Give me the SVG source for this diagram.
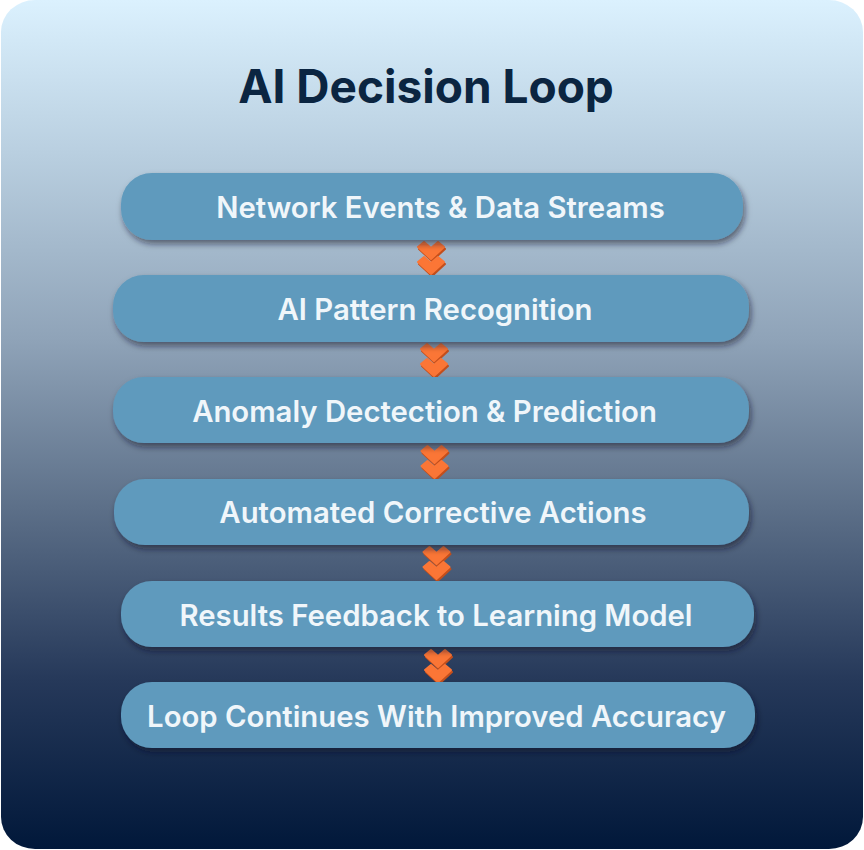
<svg xmlns="http://www.w3.org/2000/svg" xmlns:xlink="http://www.w3.org/1999/xlink" width="864" height="850" viewBox="0 0 864 850">
  <defs>
    <linearGradient id="bg" x1="0" y1="0" x2="0" y2="1">
      <stop offset="0" stop-color="#dbf1fe"/>
      <stop offset="0.18" stop-color="#b9cfe0"/>
      <stop offset="0.4" stop-color="#8fa3b8"/>
      <stop offset="0.6" stop-color="#5c6f88"/>
      <stop offset="0.8" stop-color="#26395a"/>
      <stop offset="1" stop-color="#01183a"/>
    </linearGradient>
    <filter id="shadow" x="-10%" y="-30%" width="120%" height="170%">
      <feDropShadow dx="2" dy="4" stdDeviation="3" flood-color="#0a1526" flood-opacity="0.55"/>
    </filter>
    <g id="chev1">
      <polygon points="-13,5 -7,0 0,6 7,0 13,5 0,17" fill="#c44f1c" transform="translate(1,2)" stroke="#c44f1c" stroke-width="2" stroke-linejoin="round"/>
      <polygon points="-13,5 -7,0 0,6 7,0 13,5 0,17" fill="#fb7636" stroke="#fb7636" stroke-width="2" stroke-linejoin="round"/>
    </g>
    <g id="chev">
      <use xlink:href="#chev1" href="#chev1" y="0"/>
      <use xlink:href="#chev1" href="#chev1" y="15"/>
    </g>
  </defs>
  <style>
    .pill { fill: #5f9abd; filter: url(#shadow); }
    .lbl { font-family: Inter, "Noto Sans", "Liberation Sans", sans-serif; font-size: 29.3px; font-weight: 600; fill: #f0f6fa; text-anchor: middle; }
    .title { font-family: Inter, "Noto Sans", "Liberation Sans", sans-serif; font-size: 46px; font-weight: 700; fill: #0b2541; text-anchor: middle; }
  </style>
  <rect x="0" y="0" width="864" height="850" fill="#ffffff"/>
  <rect x="1" y="0" width="862" height="849" rx="34" ry="32" fill="url(#bg)"/>
  <text class="title" x="426" y="103">AI Decision Loop</text>

  <g id="connectors">
    <use href="#chev" xlink:href="#chev" x="431" y="242"/>
    <use href="#chev" xlink:href="#chev" x="434" y="344"/>
    <use href="#chev" xlink:href="#chev" x="434.5" y="446"/>
    <use href="#chev" xlink:href="#chev" x="436.5" y="547"/>
    <use href="#chev" xlink:href="#chev" x="438" y="650"/>
  </g>

  <g id="node1">
    <rect class="pill" x="121" y="173" width="622" height="67" rx="31"/>
    <text class="lbl" x="440.5" y="218">Network Events &amp; Data Streams</text>
  </g>
  <g id="node2">
    <rect class="pill" x="113" y="275" width="636" height="67" rx="31"/>
    <text class="lbl" x="435" y="320">AI Pattern Recognition</text>
  </g>
  <g id="node3">
    <rect class="pill" x="113" y="377" width="636" height="66" rx="31"/>
    <text class="lbl" x="424.5" y="422">Anomaly Dectection &amp; Prediction</text>
  </g>
  <g id="node4">
    <rect class="pill" x="114" y="479" width="635" height="66" rx="31"/>
    <text class="lbl" x="433" y="523">Automated Corrective Actions</text>
  </g>
  <g id="node5">
    <rect class="pill" x="121" y="581" width="633" height="66" rx="31"/>
    <text class="lbl" x="436" y="626">Results Feedback to Learning Model</text>
  </g>
  <g id="node6">
    <rect class="pill" x="121" y="682" width="634" height="66" rx="31"/>
    <text class="lbl" x="436.5" y="727">Loop Continues With Improved Accuracy</text>
  </g>
</svg>
